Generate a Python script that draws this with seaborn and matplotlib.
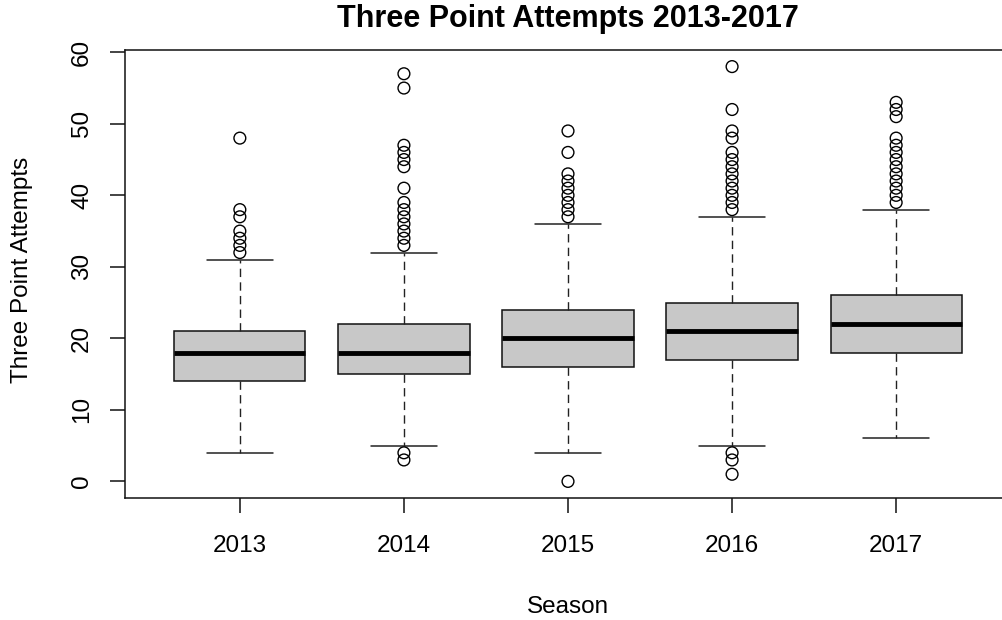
import matplotlib
matplotlib.use("Agg")
import matplotlib.pyplot as plt
import numpy as np
import pandas as pd
import seaborn as sns

# Season summary statistics (three point attempts per game)
seasons = ["2013", "2014", "2015", "2016", "2017"]
medians = [18, 18, 20, 21, 22]
q1 = [14, 15, 16, 17, 18]
q3 = [21, 22, 24, 25, 26]
whisker_low = [4, 5, 4, 5, 6]
whisker_high = [31, 32, 36, 37, 38]
outliers = [
    [48, 38, 37, 35, 34, 33, 32],
    [57, 55, 47, 46, 45, 44, 41, 39, 38, 37, 36, 35, 34, 33, 4, 3],
    [49, 46, 43, 42, 41, 40, 39, 38, 37, 0],
    [58, 52, 49, 48, 46, 45, 44, 43, 42, 41, 40, 39, 38, 4, 3, 1],
    [53, 52, 51, 48, 47, 46, 45, 44, 43, 42, 41, 40, 39],
]

sns.set_theme(style="ticks")
plt.rcParams["font.family"] = ["Liberation Sans", "DejaVu Sans"]
plt.rcParams["text.color"] = "black"
plt.rcParams["axes.labelcolor"] = "black"
plt.rcParams["xtick.color"] = "black"
plt.rcParams["ytick.color"] = "black"

FS = 17.5

W, H = 1002, 620
fig = plt.figure(figsize=(W / 100, H / 100), dpi=100)
# plot region: left 125px, right 1011px (frame runs past the canvas edge), top 50px, bottom 498px
ax = fig.add_axes([125 / W, (H - 498) / H, (1011 - 125) / W, (498 - 50) / H])

positions = np.arange(1, len(seasons) + 1)
stats = [
    dict(med=m, q1=a, q3=b, whislo=lo, whishi=hi, fliers=[], label=s)
    for s, m, a, b, lo, hi in zip(seasons, medians, q1, q3, whisker_low, whisker_high)
]
ax.bxp(
    stats,
    positions=positions,
    widths=0.8,
    capwidths=0.4,
    patch_artist=True,
    showfliers=False,
    boxprops=dict(facecolor="#c8c8c8", edgecolor="#111111", linewidth=1.1),
    medianprops=dict(color="black", linewidth=3.5, solid_capstyle="butt"),
    whiskerprops=dict(color="#222222", linewidth=1.0, linestyle=(0, (6, 3.8))),
    capprops=dict(color="#222222", linewidth=1.1),
)

# individual outlying games
flier_df = pd.DataFrame(
    [(p, v) for p, vals in zip(positions, outliers) for v in vals],
    columns=["pos", "value"],
)
sns.scatterplot(
    data=flier_df, x="pos", y="value", ax=ax,
    marker="o", s=72, facecolors="none", edgecolor="black", linewidth=1.0,
    zorder=5, legend=False,
)

ax.set_xlim(0.3, 5.7)
ax.set_ylim(-2.32, 60.32)
ax.set_xticks(positions)
ax.set_xticklabels(seasons)
ax.set_yticks(np.arange(0, 61, 10))
ax.set_yticklabels([str(v) for v in range(0, 61, 10)])

for side in ["left", "right", "top", "bottom"]:
    ax.spines[side].set_visible(True)
    ax.spines[side].set_color("#111111")
    ax.spines[side].set_linewidth(1.1)

ax.tick_params(axis="both", which="major", length=10.5, width=1.1, color="#111111",
               labelsize=FS, labelcolor="black", direction="out")
ax.tick_params(axis="x", pad=16)
ax.tick_params(axis="y", pad=12.5)
for lbl in ax.get_yticklabels():
    lbl.set_rotation(90)
    lbl.set_va("center")

ax.set_xlabel("")
ax.set_ylabel("")
fig.text(568 / W, 1 - 613 / H, "Season", ha="center", va="baseline", fontsize=FS)
fig.text(22 / W, 1 - 270 / H, "Three Point Attempts", ha="center", va="center",
         rotation=90, fontsize=FS)
fig.text(568 / W, 1 - 26.5 / H, "Three Point Attempts 2013-2017", ha="center",
         va="baseline", fontsize=22, fontweight="bold")

fig.savefig("out.png", dpi=100, facecolor="white")
